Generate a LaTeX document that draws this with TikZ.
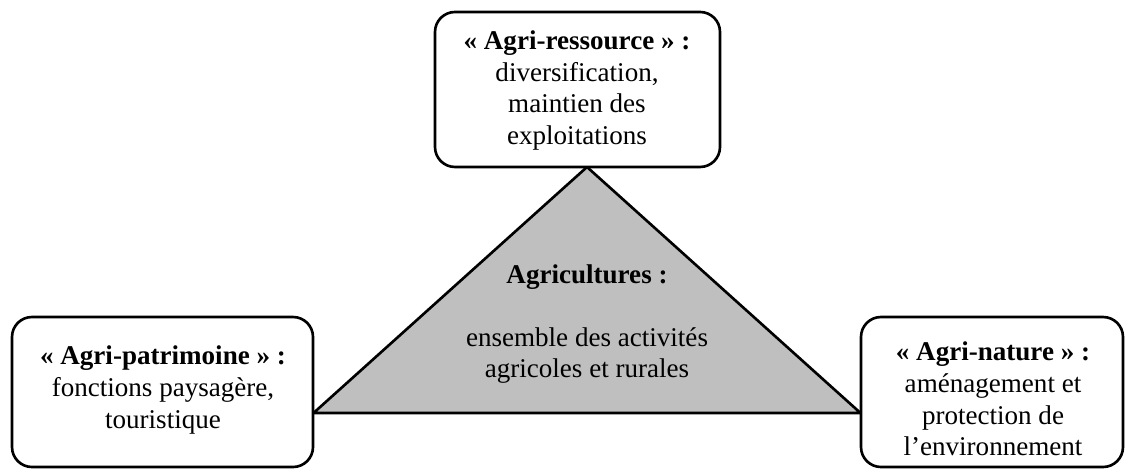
\documentclass[tikz,border=0pt]{standalone}
\usepackage{fontspec}
\setmainfont{Liberation Serif}
\usepackage{tikz}

\begin{document}
\begin{tikzpicture}[
        box/.style={draw,rounded corners=0.4cm,line width=1.5pt,fill=white},
        body/.style={align=center,font=\fontsize{15.4}{18}\selectfont}
    ]
        \useasboundingbox (0,0) rectangle (22.5,9.38);

        \coordinate (apex) at (11.74,6.04);
        \coordinate (bl) at (6.27,1.12);
        \coordinate (br) at (17.21,1.12);
        \draw[line width=1.5pt,fill=gray!50,line join=miter] (apex) -- (bl) -- (br) -- cycle;

        \node[box,minimum width=5.7cm,minimum height=3.1cm] (resbox) at (11.55,7.59) {};
        \node[box,minimum width=6.02cm,minimum height=3cm] (patbox) at (3.25,1.54) {};
        \node[box,minimum width=5.24cm,minimum height=3cm] (natbox) at (19.84,1.54) {};

        \node[body] (res) at (11.54,7.57)
            {\textbf{« Agri-ressource » :}\\diversification,\\maintien des\\exploitations};
        \node[body] (pat) at (3.26,1.58)
            {\textbf{« Agri-patrimoine » :}\\fonctions paysagère,\\touristique};
        \node[body] (nat) at (19.86,1.40)
            {\textbf{« Agri-nature » :}\\aménagement et\\protection de\\l’environnement};

        \node[body] (agri) at (11.74,2.90)
            {\textbf{Agricultures :}\\[18pt]ensemble des activités\\agricoles et rurales};
    \end{tikzpicture}
\end{document}
